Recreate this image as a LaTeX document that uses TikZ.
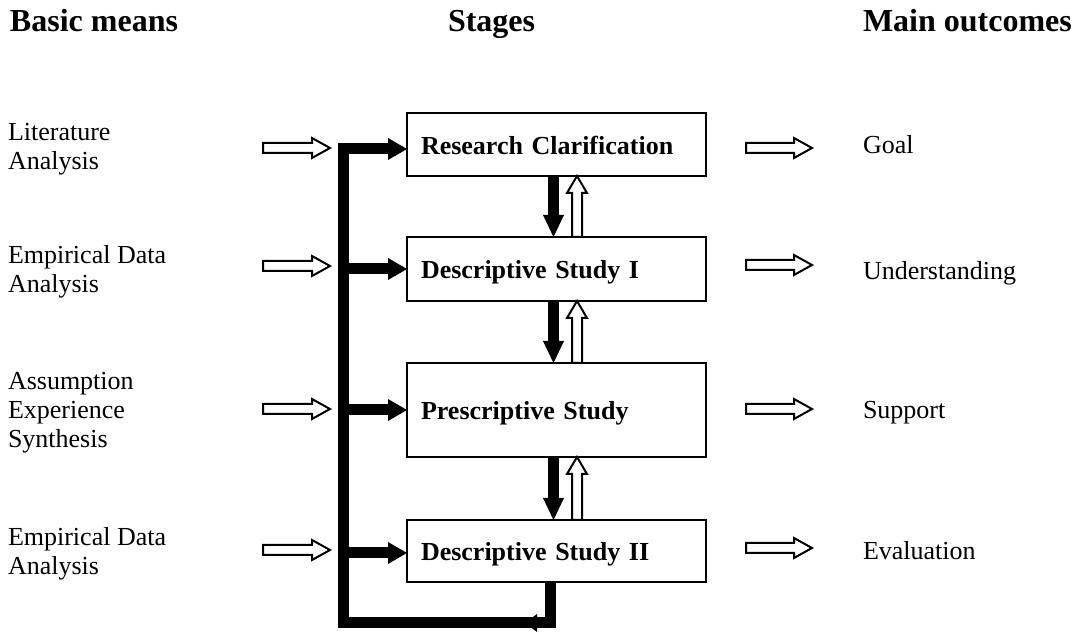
\documentclass[tikz,border=0pt]{standalone}
\usepackage{fontspec}
\setmainfont{Liberation Serif}
\usetikzlibrary{arrows.meta,calc}

% outlined arrow pointing up, from a tail point #1 to a tip point #2
\newcommand\hollowup[2]{%
  \draw[hollow] ($#1+(-5,0)$) -- ($#2+(-5,17)$) -- ($#2+(-10,17)$) -- #2
    -- ($#2+(10,17)$) -- ($#2+(5,17)$) -- ($#1+(5,0)$) -- cycle;}
% outlined arrow pointing right, from a tail point #1 to a tip point #2
\newcommand\hollowright[2]{%
  \draw[hollow] ($#1+(0,-5)$) -- ($#2+(-18,-5)$) -- ($#2+(-18,-10)$) -- #2
    -- ($#2+(-18,10)$) -- ($#2+(-18,5)$) -- ($#1+(0,5)$) -- cycle;}

\begin{document}
\begin{tikzpicture}[x=0.75pt,y=-0.75pt,
  every node/.style={inner sep=0pt, outer sep=0pt},
  heading/.style={anchor=base west, font=\fontsize{24}{28}\selectfont\bfseries},
  means/.style={anchor=west, align=left, font=\fontsize{19.5}{21.75}\selectfont},
  outcome/.style={anchor=base west, font=\fontsize{19.5}{21.75}\selectfont},
  stagebox/.style={draw, line width=1.6pt, minimum width=224.25pt,
    text width=203.25pt, inner xsep=10.5pt, align=left,
    text height=15pt, text depth=0pt,
    font=\fontsize{19.5}{21.75}\selectfont\bfseries},
  hollow/.style={draw, line width=1.5pt, fill=white, line join=miter},
  bus/.style={line width=8.25pt, line join=miter},
  busarrow/.style={bus, -{Triangle[length=14.25pt, width=16.5pt, line width=0pt]}},
  downarrow/.style={line width=8.25pt, -{Triangle[length=16.5pt, width=15.75pt, line width=0pt]}},
]
\useasboundingbox (0,0) rectangle (1076,634);

% column headings
\node[heading] (hmeans) at (10,32) {Basic means};
\node[heading] (hstages) at (448,32) {Stages};
\node[heading] (houtcomes) at (863,32) {Main outcomes};

% stages
\node[stagebox, minimum height=47.25pt] (s1) at (556.5,144.5) {Research Clarification};
\node[stagebox, minimum height=48pt]    (s2) at (556.5,269)   {Descriptive Study I};
\node[stagebox, minimum height=70.5pt]  (s3) at (556.5,410)   {Prescriptive Study};
\node[stagebox, minimum height=46.5pt]  (s4) at (556.5,551)   {Descriptive Study II};

% basic means
\node[means] (m1) at (8,149) {Literature\\Analysis};
\node[means] (m2) at (8,272) {Empirical Data\\Analysis};
\node[means] (m3) at (8,413) {Assumption\\Experience\\Synthesis};
\node[means] (m4) at (8,554) {Empirical Data\\Analysis};

% main outcomes
\node[outcome] (o1) at (863,154) {Goal};
\node[outcome] (o2) at (863,280) {Understanding};
\node[outcome] (o3) at (863,419) {Support};
\node[outcome] (o4) at (863,560) {Evaluation};

% outlined arrows between the columns
\foreach \y [count=\i] in {148,266,409,550} {
  \coordinate (lt\i) at (263,\y);
  \coordinate (lh\i) at (330,\y);
  \hollowright{(lt\i)}{(lh\i)}
}
\foreach \y [count=\i] in {148,265,409,548} {
  \coordinate (rt\i) at (746,\y);
  \coordinate (rh\i) at (812,\y);
  \hollowright{(rt\i)}{(rh\i)}
}

% feedback loop and bus into the stages
\coordinate (busx) at (343,0);
\coordinate (fbx) at (550,0);
\coordinate (loopy) at (0,623);
\coordinate (topy) at (0,149);
\draw[busarrow] (s4.south -| fbx) -- (fbx |- loopy) -- (busx |- loopy)
  -- (busx |- topy) -- (s1.west |- topy);
\coordinate (fbtip) at (525,623);
\fill (fbtip) -- ++(12,-9) -- ++(0,18) -- cycle;
\draw[busarrow] (busx |- s2.west) -- (s2.west);
\draw[busarrow] (busx |- s3.west) -- (s3.west);
\draw[busarrow] ([yshift=-1.5pt]busx |- s4.west) -- ([yshift=-1.5pt]s4.west);

% forward and backward links between successive stages
\coordinate (dx) at (553.5,0);
\coordinate (ux) at (577,0);
\foreach \a/\b in {s1/s2, s2/s3, s3/s4} {
  \draw[downarrow] (\a.south -| dx) -- (\b.north -| dx);
  \hollowup{(\b.north -| ux)}{(\a.south -| ux)}
}
\end{tikzpicture}
\end{document}
